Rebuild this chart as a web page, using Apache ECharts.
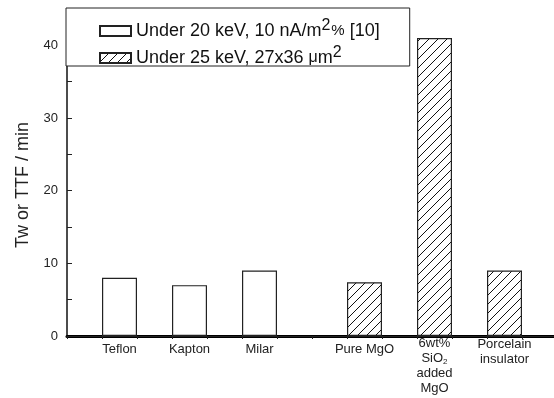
<!DOCTYPE html>
<html><head><meta charset="utf-8">
<script src="https://cdn.jsdelivr.net/npm/echarts/dist/echarts.min.js"></script>
<style>html,body{margin:0;padding:0;background:#fff}#c{width:554px;height:398px}</style>
</head><body><div id="c"></div>
<script>
// ---- data ----
const categories = ['', 'Teflon', '', 'Kapton', '', 'Milar', '', '', 'Pure MgO', '', '6wt%\nSiO{sub|2}\nadded\nMgO', '', 'Porcelain\ninsulator', ''];
const under20keV = [null, 8, null, 7, null, 9, null, null, null, null, null, null, null, null];
const under25keV = [null, null, null, null, null, null, null, null, 7.4, null, 41, null, 9, null];
const seriesNames = ['Under 20 keV, 10 nA/m2% [10]', 'Under 25 keV, 27x36 \u03bcm2'];
const legendRich = {
  'Under 20 keV, 10 nA/m2% [10]': '{t|Under 20 keV, 10 nA/m}{sup|2}{p|%}{t| [10]}',
  'Under 25 keV, 27x36 \u03bcm2': '{t|Under 25 keV, 27x36 }{mu|\u03bc}{t|m}{sup|2}'
};
const yTickLabels = [0, 10, 20, 30, 40];
const yTitle = 'Tw or TTF / min';

// ---- styling ----
const FONT = '"Liberation Sans", Arial, sans-serif';
function hatch() {
  const c = document.createElement('canvas'); c.width = 9; c.height = 9;
  const g = c.getContext('2d');
  g.fillStyle = '#fff'; g.fillRect(0, 0, 9, 9);
  g.strokeStyle = '#111'; g.lineWidth = 1;
  g.beginPath();
  g.moveTo(0, 9); g.lineTo(9, 0);
  g.moveTo(-1, 1); g.lineTo(1, -1);
  g.moveTo(8, 10); g.lineTo(10, 8);
  g.stroke();
  return c;
}
// multi-line labels sit a little higher in the reference
const axisData = categories.map(c => {
  const lines = c.split('\n').length;
  return lines > 1 ? {value: c, textStyle: {padding: [-(lines > 2 ? 6 : 5), 0, 0, 0]}} : c;
});
const chart = echarts.init(document.getElementById('c'), null, {renderer: 'canvas'});
const option = {
  backgroundColor: '#fff',
  animation: false,
  grid: {left: 67, top: 9, width: 490, height: 327, containLabel: false, outerBoundsMode: 'none'},
  legend: {
    orient: 'vertical', left: 66, top: 8,
    backgroundColor: '#fff', borderColor: '#222', borderWidth: 1,
    padding: [10, 30, -1, 33], itemGap: 5,
    icon: 'rect', itemWidth: 31, itemHeight: 10,
    selectedMode: false,
    data: seriesNames,
    formatter: n => legendRich[n],
    textStyle: {
      fontFamily: FONT, fontSize: 18, color: '#111',
      rich: {
        t: {fontFamily: FONT, fontSize: 18, color: '#111', lineHeight: 18},
        mu: {fontFamily: FONT, fontSize: 16, color: '#111', lineHeight: 18},
        p: {fontFamily: FONT, fontSize: 15, color: '#111', lineHeight: 18},
        sup: {fontFamily: FONT, fontSize: 16, color: '#111', lineHeight: 18, verticalAlign: 'top', padding: [-4, 1, 0, 0]}
      }
    }
  },
  xAxis: [{
    type: 'category', data: axisData, position: 'bottom',
    axisLine: {show: true, onZero: false, lineStyle: {color: '#000', width: 3}},
    axisTick: {show: true, interval: 0, alignWithLabel: false, length: 3, lineStyle: {color: '#333'}},
    axisLabel: {
      interval: 0, margin: 6, fontFamily: FONT, fontSize: 13, color: '#222', lineHeight: 15,
      rich: {sub: {fontFamily: FONT, fontSize: 8, color: '#222', lineHeight: 15, padding: [6, 0, 0, 0]}}
    },
    splitLine: {show: false}
  }, {
    type: 'category', data: categories, position: 'top',
    axisLine: {show: true, lineStyle: {color: '#222', width: 1}},
    axisTick: {show: true, inside: true, interval: 0, alignWithLabel: false, length: 3, lineStyle: {color: '#222'}},
    axisLabel: {show: false}, splitLine: {show: false}
  }],
  yAxis: {
    type: 'value', min: 0, max: 45, interval: 5,
    axisLine: {show: true, onZero: false, lineStyle: {color: '#111', width: 1.5}},
    axisTick: {show: true, inside: true, length: 5, lineStyle: {color: '#222'}},
    axisLabel: {
      margin: 9, fontFamily: FONT, fontSize: 13, color: '#222',
      formatter: v => (yTickLabels.indexOf(v) >= 0 ? String(v) : '')
    },
    splitLine: {show: false}
  },
  graphic: [{
    type: 'text', left: 14, top: 122, rotation: Math.PI / 2,
    style: {text: yTitle, fontFamily: FONT, fontSize: 18, fill: '#222'}
  }],
  series: [{
    name: seriesNames[0], type: 'bar', data: under20keV, xAxisIndex: 0,
    barWidth: '100%', barGap: '-100%',
    itemStyle: {color: '#fff', borderColor: '#222', borderWidth: 1.2}
  }, {
    name: seriesNames[1], type: 'bar', data: under25keV, xAxisIndex: 0,
    barWidth: '100%', barGap: '-100%',
    itemStyle: {color: {image: hatch(), repeat: 'repeat'}, borderColor: '#222', borderWidth: 1.2}
  }]
};
chart.setOption(option);
</script></body></html>
